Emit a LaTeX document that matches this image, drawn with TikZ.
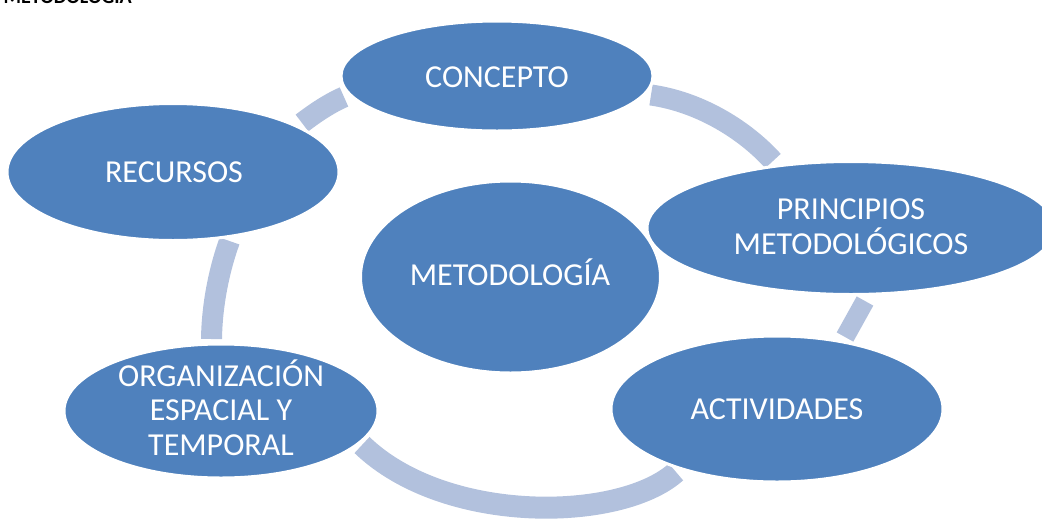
\documentclass[tikz,border=0pt]{standalone}
\usepackage{fontspec}
\setmainfont{Carlito}
\usetikzlibrary{shapes.geometric}
\definecolor{nodeblue}{HTML}{4F81BD}
\definecolor{ringblue}{HTML}{B2C1DD}
\begin{document}
\begin{tikzpicture}[x=1pt,y=-1pt,
  bubble/.style={ellipse, fill=nodeblue, draw=white, line width=3pt, inner sep=0pt},
  lbl/.style={text=white, font=\fontsize{32}{34.5}\selectfont, align=center, inner sep=0pt},
  band/.style={draw=ringblue, line width=21pt, line cap=butt}]
\useasboundingbox (0,0) rectangle (1042,523);
% title (clipped at top of page)
\node[font=\bfseries\fontsize{20}{24}\selectfont, anchor=base east, inner sep=0pt] (title) at (132,3) {METODOLOGÍA};
% ring segments
\draw[band, line width=22pt] (362,445) .. controls (445,525) and (620,522) .. (676,472);
\draw[band] (229.5,241) .. controls (219,270) and (212,305) .. (211.5,339);
\draw[band] (302,123) .. controls (315,113) and (330,103) .. (344,97);
\draw[band] (651,95) .. controls (700,102) and (745,130) .. (773,161);
\draw[band, line width=19pt] (865,301) -- (845,337);
% ellipses
\node[bubble, minimum width=312pt, minimum height=110pt] (concepto) at (497,76) {};
\node[bubble, minimum width=332pt, minimum height=137pt] (recursos) at (173,172) {};
\node[bubble, minimum width=314pt, minimum height=134pt] (organiz) at (221,411) {};
\node[bubble, minimum width=332pt, minimum height=146pt] (activ) at (777,409) {};
\node[bubble, minimum width=300pt, minimum height=192pt] (metod) at (510.5,277) {};
\node[bubble, minimum width=408pt, minimum height=133pt] (princ) at (851,228) {};
% labels
\node[lbl, anchor=base] (tconcepto) at (497,87) {CONCEPTO};
\node[lbl, anchor=base] (trecursos) at (174,182) {RECURSOS};
\node[lbl, anchor=base] (tmetod) at (510,285) {METODOLOGÍA};
\node[lbl, anchor=base] (tactiv) at (777,419) {ACTIVIDADES};
\node[lbl, anchor=base] (tprinc) at (851,254) {PRINCIPIOS\\METODOLÓGICOS};
\node[lbl, anchor=base] (torganiz) at (221,455) {ORGANIZACIÓN\\ESPACIAL Y\\TEMPORAL};
\end{tikzpicture}
\end{document}
